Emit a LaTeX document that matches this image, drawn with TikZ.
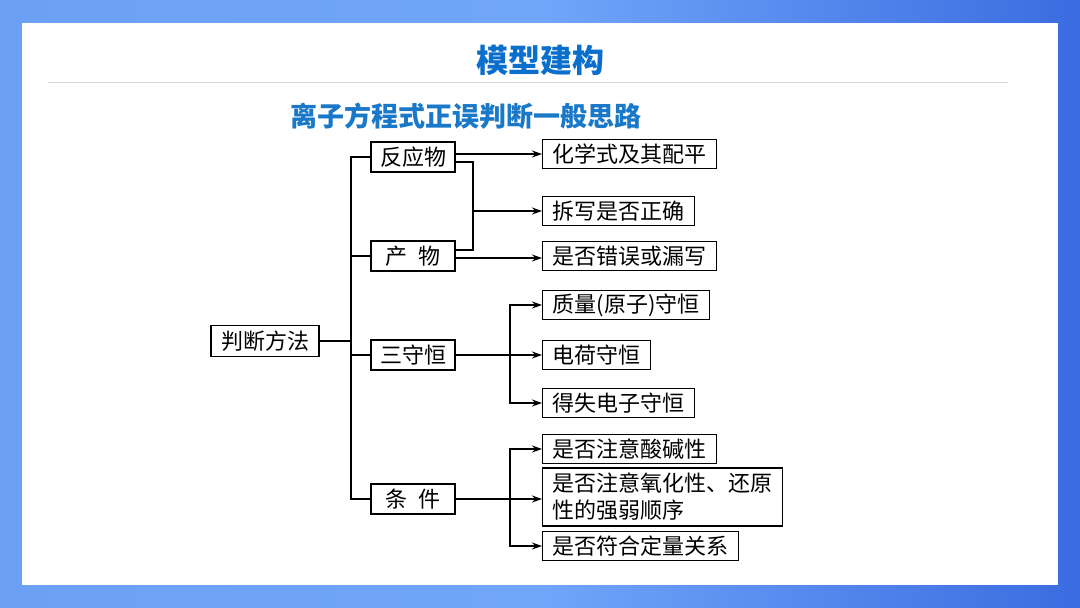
\documentclass[tikz,border=0pt]{standalone}
\usepackage{fontspec}
\setmainfont{Noto Sans CJK SC}
\newfontfamily\cjk{Noto Sans CJK SC}
\usetikzlibrary{arrows.meta}
\definecolor{titleblue}{RGB}{10,110,205}
\definecolor{subblue}{RGB}{25,120,200}
\definecolor{bgleft}{RGB}{108,160,244}
\definecolor{bgmid}{RGB}{112,166,250}
\definecolor{bgright}{RGB}{58,108,224}
\tikzset{
  box/.style={draw=black, line width=1.4pt, fill=white, inner xsep=10pt, inner ysep=0pt,
    minimum height=29pt, font=\cjk\fontsize{22}{26}\selectfont, anchor=west},
  lbox/.style={draw=black, line width=1.4pt, fill=white, inner sep=0pt,
    minimum width=84pt, minimum height=30pt, font=\cjk\fontsize{22}{26}\selectfont},
  conn/.style={line width=1.4pt, draw=black},
  arr/.style={conn, -{Stealth[length=10pt,width=7pt]}}
}
\begin{document}
\begin{tikzpicture}[x=1pt,y=-1pt]
\useasboundingbox (0,0) rectangle (1080,608);
\shade[left color=bgleft, right color=bgright, middle color=bgmid] (0,0) rectangle (1080,608);
\fill[white] (22,23) rectangle (1058,585);
\draw[gray!30, line width=1pt] (48,82) -- (1008,82);
\node[font=\cjk\bfseries\fontsize{32}{36}\selectfont, text=titleblue] (title) at (540,60) {模型建构};
\node[font=\cjk\bfseries\fontsize{27}{32}\selectfont, text=subblue, anchor=west, inner sep=0pt] (sub) at (290,116) {离子方程式正误判断一般思路};

% left column
\node[lbox, minimum width=108pt, minimum height=31pt] (pd) at (265,341) {判断方法};
\node[lbox] (fy) at (413,157) {反应物};
\node[lbox] (cw) at (413,256) {产\hspace{12pt}物};
\node[lbox] (ss) at (413,355) {三守恒};
\node[lbox] (tj) at (413,499) {条\hspace{12pt}件};

% right column
\node[box] (r1) at (542,154) {化学式及其配平};
\node[box] (r2) at (542,211) {拆写是否正确};
\node[box] (r3) at (542,256) {是否错误或漏写};
\node[box] (r4) at (542,305) {质量(原子)守恒};
\node[box] (r5) at (542,355) {电荷守恒};
\node[box] (r6) at (542,403) {得失电子守恒};
\node[box] (r7) at (542,449) {是否注意酸碱性};
\node[box, align=left, minimum height=58pt, font=\cjk\fontsize{22}{27}\selectfont] (r8) at (542,497) {是否注意氧化性、还原\\性的强弱顺序};
\node[box] (r9) at (542,546) {是否符合定量关系};

\coordinate (trunk) at (351,341);
\coordinate (bx) at (473,211);
\coordinate (sx) at (510,355);
\coordinate (tx) at (510,499);

% trunk
\draw[conn] (pd.east) -- (trunk);
\draw[conn] (fy.west) -| (trunk) |- (tj.west);
\draw[conn] (cw.west) -- (cw.west -| trunk);
\draw[conn] (ss.west) -- (ss.west -| trunk);

% reactant / product
\draw[arr] (fy.east |- r1.west) -- (r1.west);
\draw[conn] ([yshift=-5pt]fy.east) -| (bx) |- ([yshift=6pt]cw.east);
\draw[arr] (bx) -- (r2.west);
\draw[arr] ([yshift=-2pt]cw.east) -- ([yshift=-2pt]cw.east -| r3.west);

% conservation
\draw[arr] (ss.east) -- (r5.west);
\draw[arr] (sx) |- (r4.west);
\draw[arr] (sx) |- (r6.west);

% conditions
\draw[arr] (tj.east) -- (tj.east -| r8.west);
\draw[arr] (tx) |- (r7.west);
\draw[arr] (tx) |- (r9.west);
\end{tikzpicture}
\end{document}
